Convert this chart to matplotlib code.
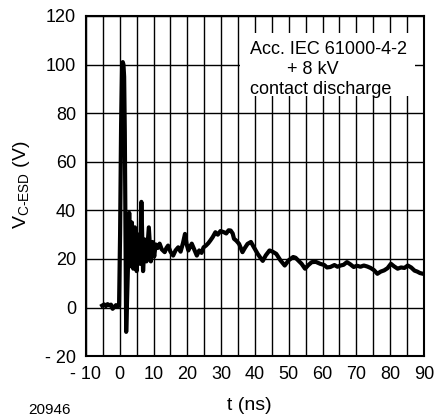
import matplotlib.pyplot as plt
from matplotlib.patches import Rectangle

plt.rcParams['font.family'] = ['Liberation Sans', 'DejaVu Sans']
plt.rcParams['mathtext.fontset'] = 'custom'
plt.rcParams['mathtext.rm'] = 'Liberation Sans'

# Waveform (t in ns, V in volts)
t_ns = [-5.2, -4.6, -4.1, -3.6, -3.1, -2.6, -2.1, -1.6, -1.1, -0.6, -0.2,
        0.1, 0.4, 0.7, 0.9, 1.1, 1.3, 1.5, 1.7, 1.9,
        2.4, 2.8, 3.2, 3.6, 4.0, 4.5, 5.0, 5.5, 6.0, 6.4, 6.9, 7.4, 7.9, 8.6, 9.2, 9.7, 10.2,
        10.6, 11.2, 11.8, 12.4, 13.3, 13.8, 14.3, 15.0, 15.8, 16.5, 17.3, 18.0, 18.7, 19.3,
        19.8, 20.3, 20.8, 21.3, 22.0, 22.8, 23.5, 24.2, 24.8, 25.5, 26.2, 26.8, 27.5, 28.3,
        29.0, 29.8, 30.8, 31.5, 32.2, 32.8, 33.4, 33.8, 34.5, 35.3, 36.3, 37.0, 37.8, 38.8,
        39.6, 40.8, 41.6, 42.3, 43.2, 44.3, 45.2, 46.3, 47.5, 48.8, 50.0, 51.3, 52.0, 52.8,
        53.8, 54.8, 55.8, 56.8, 58.0, 59.3, 60.5, 61.3, 62.3, 63.5, 64.4, 65.3, 66.2, 67.2,
        68.2, 69.2, 70.2, 71.2, 72.2, 73.2, 74.2, 75.2, 76.2, 77.2, 78.2, 79.2, 80.2, 81.2,
        82.2, 83.2, 84.2, 85.2, 86.2, 87.2, 88.0, 88.8, 89.7]
v_volts = [0.8, 1.3, 0.6, 1.4, 0.9, 1.2, -0.5, 0.3, 1.0, 0.4, 0.8,
           30, 75, 99, 101, 100, 95, 72, 30, -10,
           15, 39, 17, 35, 16, 33, 15, 30, 18, 43.5, 15, 28, 19, 33, 19, 27, 21,
           26, 24.5, 26.3, 24, 22.8, 24.5, 25.5, 23, 21.4, 23.5, 24.8, 23, 26.5, 30.3,
           26, 23.5, 25, 26.3, 24, 21.4, 23.5, 22.5, 24.8, 25.5, 26.5, 27.6, 29, 31,
           30, 31.5, 31, 30.5, 31.8, 31.7, 30.5, 28.3, 27.5, 26.2, 22.8, 24.5, 26.2, 27,
           25, 22.1, 20.5, 19.2, 21.5, 23.5, 23, 22.1, 19.5, 17.3, 19.5, 20.8, 20.5, 19.4,
           18, 16, 17.5, 18.7, 18.8, 18, 17.5, 16.5, 16.7, 17.5, 16.8, 17.3, 17.6, 18.7,
           17.8, 16.7, 17.2, 16.8, 17.3, 16.9, 16.3, 15.4, 13.9, 14.8, 15.3, 16.2, 18, 16.9,
           16, 16.5, 16.3, 17.3, 16.5, 15.2, 14.8, 14.2, 13.9]

x_ticks = [-10, 0, 10, 20, 30, 40, 50, 60, 70, 80, 90]
x_labels = ['- 10', '0', '10', '20', '30', '40', '50', '60', '70', '80', '90']
y_ticks = [-20, 0, 20, 40, 60, 80, 100, 120]
y_labels = ['- 20', '0', '20', '40', '60', '80', '100', '120']

fig = plt.figure(figsize=(4.34, 4.2), dpi=100)
ax = fig.add_axes([0.198, 0.152, 0.779, 0.810])

ax.plot(t_ns, v_volts, color='black', linewidth=3.0, zorder=3)

ax.set_xlim(-10, 90)
ax.set_ylim(-20, 120)
ax.set_xticks(x_ticks)
ax.set_xticklabels(x_labels)
ax.set_yticks(y_ticks)
ax.set_yticklabels(y_labels)
ax.set_xticks(range(-5, 90, 10), minor=True)
ax.tick_params(which='both', length=0, labelsize=13)
ax.tick_params(axis='x', pad=7)
ax.tick_params(axis='y', pad=7)
ax.grid(True, which='both', axis='x', color='black', linewidth=1.0)
ax.grid(True, which='major', axis='y', color='black', linewidth=1.0)
ax.set_axisbelow(True)
for s in ax.spines.values():
    s.set_linewidth(1.5)

# white label box over the grid
ax.add_patch(Rectangle((0.456, 0.764), 0.518, 0.186, transform=ax.transAxes,
                       facecolor='white', edgecolor='none', zorder=2))
ax.text(0.485, 0.888, 'Acc. IEC 61000-4-2', transform=ax.transAxes, fontsize=13, zorder=4)
ax.text(0.595, 0.829, '+ 8 kV', transform=ax.transAxes, fontsize=13, zorder=4)
ax.text(0.485, 0.770, 'contact discharge', transform=ax.transAxes, fontsize=13, zorder=4)

fig.text(0.05, 0.56, r'V$_{\mathrm{C\text{-}ESD}}$ (V)', rotation=90, fontsize=14,
         ha='center', va='center')
fig.text(0.575, 0.035, 't (ns)', fontsize=14, ha='center', va='center')
fig.text(0.065, 0.024, '20946', fontsize=11, ha='left', va='center')

plt.savefig('out.png', dpi=100)
